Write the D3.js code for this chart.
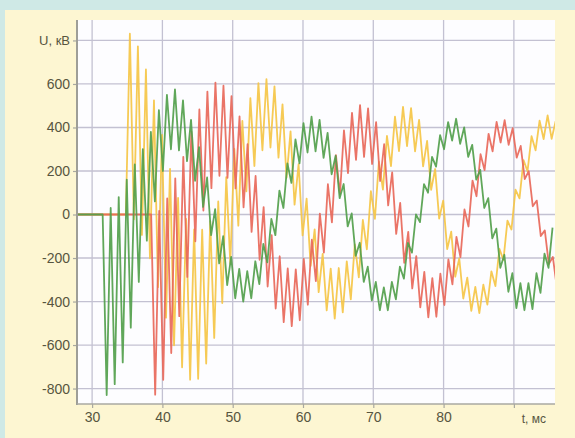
<!DOCTYPE html>
<html><head><meta charset="utf-8">
<script src="https://cdn.jsdelivr.net/npm/d3@7"></script>
<style>
body{margin:0;background:#fdf6d2;}
svg{display:block}
text{font-family:"Liberation Sans",Arial,sans-serif;}
</style>
</head><body>
<svg id="c" width="575" height="438"></svg>
<script>
// ---- data ----
const xTicks = [30, 40, 50, 60, 70, 80, 90];
const xTickLabels = ["30", "40", "50", "60", "70", "80", ""];
const yTicks = [-800, -600, -400, -200, 0, 200, 400, 600, 800];
const yTickLabels = ["-800", "-600", "-400", "-200", "0", "200", "400", "600", "U, кВ"];
const xTitle = "t, мс";
const xDomain = [27.85, 95.85];
const yDomain = [-871, 894];
const sampleStep = 20 / 35;           // ms between zigzag vertices
const seriesNames = ["yellow", "red", "green"];
const seriesStarts = [34.8, 38.4, 31.5]; // switching instants, ms

const greenU = [
0,-830,30,-780,80,-680,160,-520,230,-310,
300,-120,380,60,480,200,550,300,575,295,
525,245,435,155,310,35,170,-95,25,-225,
-100,-325,-195,-385,-250,-400,-260,-385,-215,-320,
-135,-220,-20,-95,110,30,235,145,345,235,
420,285,450,290,435,260,375,185,270,75,
140,-55,5,-190,-130,-310,-240,-395,-310,-440,
-335,-440,-310,-390,-240,-295,-130,-175,0,-35,
140,100,265,220,365,300,425,340,440,325,
400,265,320,160,205,30,75,-110,-65,-245,
-185,-355,-270,-430,-315,-440,-315,-435,-270,-360,
-180,-245,-60];

const yellowU = [
0,831,-22,773,-94,667,-201,525,-334,366,
-474,210,-601,76,-702,-20,-759,-68,-755,-70,
-685,-30,-567,60,-407,172,-226,302,-51,430,
106,535,223,604,295,622,308,589,261,506,
169,382,45,231,-96,73,-236,-68,-357,-181,
-441,-249,-479,-246,-450,-215,-390,-137,-289,-25,
-160,107,-20,243,114,361,222,450,291,495,
314,489,290,435,221,338,113,209,-19,64,
-159,-79,-286,-202,-386,-290,-443,-333,-453,-322,
-414,-261,-329,-158,-209,-28,-69,114,74,250,
199,360,295,431,347,456,348,429];

const redU = [
0,-828,17,-760,74,-637,166,-467,265,-287,
381,-123,483,18,565,121,606,178,592,168,
544,120,451,33,323,-80,177,-208,34,-331,
-95,-432,-192,-495,-248,-513,-252,-486,-204,-415,
-116,-306,4,-175,139,-36,273,91,387,190,
467,251,503,265,488,232,425,154,323,42,
194,-89,53,-222,-80,-340,-191,-427,-264,-473,
-292,-470,-272,-416,-206,-321,-103,-196,23,-55,
156,84,277,204,371,290,426,331,434,320,
397,261,315,163,199,38,64,-99,-73,-228,
-195,-335];

const seriesValues = [yellowU, redU, greenU];
const seriesColors = ["#f5c646", "#e8685a", "#53a04c"];

// ---- drawing ----
const W = 575, H = 438;
const svg = d3.select("#c");
const L = 77, R = 555, T = 20, B = 404;

svg.append("rect").attr("x",0).attr("y",0).attr("width",W).attr("height",H).attr("fill","#cfe9e6");
svg.append("rect").attr("x",5).attr("y",10).attr("width",W-5).attr("height",H-10).attr("fill","#fdf6d2");
svg.append("rect").attr("x",L).attr("y",T).attr("width",R-L).attr("height",B-T).attr("fill","#fdfdff");

const x = d3.scaleLinear().domain(xDomain).range([L, R]);
const y = d3.scaleLinear().domain(yDomain).range([B, T]);

// grid
const grid = svg.append("g").attr("stroke","#c3c1d2").attr("stroke-width",1.3);
grid.selectAll("line.v").data(xTicks).join("line")
  .attr("x1",d=>x(d)).attr("x2",d=>x(d)).attr("y1",T).attr("y2",B);
grid.selectAll("line.h").data(yTicks).join("line")
  .attr("x1",L).attr("x2",R).attr("y1",d=>y(d)).attr("y2",d=>y(d));

// clip
svg.append("clipPath").attr("id","clip").append("rect")
  .attr("x",L).attr("y",T).attr("width",R-L).attr("height",B-T);

const line = d3.line().x(d=>x(d[0])).y(d=>y(d[1]));
const lines = svg.append("g").attr("clip-path","url(#clip)");
seriesValues.forEach((vals, s) => {
  const pts = [[xDomain[0], 0]];
  vals.forEach((v, i) => pts.push([seriesStarts[s] + i * sampleStep, v]));
  lines.append("path").datum(pts)
    .attr("d", line)
    .attr("fill","none")
    .attr("stroke", seriesColors[s])
    .attr("stroke-width", 1.8)
    .attr("stroke-linejoin","round")
    .attr("opacity", 0.92);
});

// axes
const yAxis = d3.axisLeft(y).tickValues(yTicks)
  .tickFormat((d,i)=>yTickLabels[i]).tickSize(4).tickPadding(3);
const gy = svg.append("g").attr("transform",`translate(${L},0)`).call(yAxis);
const xAxis = d3.axisBottom(x).tickValues(xTicks)
  .tickFormat((d,i)=>xTickLabels[i]).tickSize(4).tickPadding(4);
const gx = svg.append("g").attr("transform",`translate(0,${B})`).call(xAxis);

[gx, gy].forEach(g => {
  g.select(".domain").remove();
  g.selectAll(".tick line").attr("stroke","#a8a8a0").attr("stroke-width",1.2);
  g.selectAll("text").attr("fill","#57553f").style("font-size","14px");
});
gy.select(".tick:last-of-type text").style("font-size","13px");

svg.append("line").attr("x1",L).attr("x2",L).attr("y1",T).attr("y2",B+1)
  .attr("stroke","#9e9e98").attr("stroke-width",2);
svg.append("line").attr("x1",L).attr("x2",R).attr("y1",B).attr("y2",B)
  .attr("stroke","#a8a8a2").attr("stroke-width",1.6);

svg.append("text").attr("x", x(92.85)).attr("y", B + 19)
  .attr("text-anchor","middle").attr("fill","#57553f")
  .style("font-size","12px").text(xTitle);
</script>
</body></html>
